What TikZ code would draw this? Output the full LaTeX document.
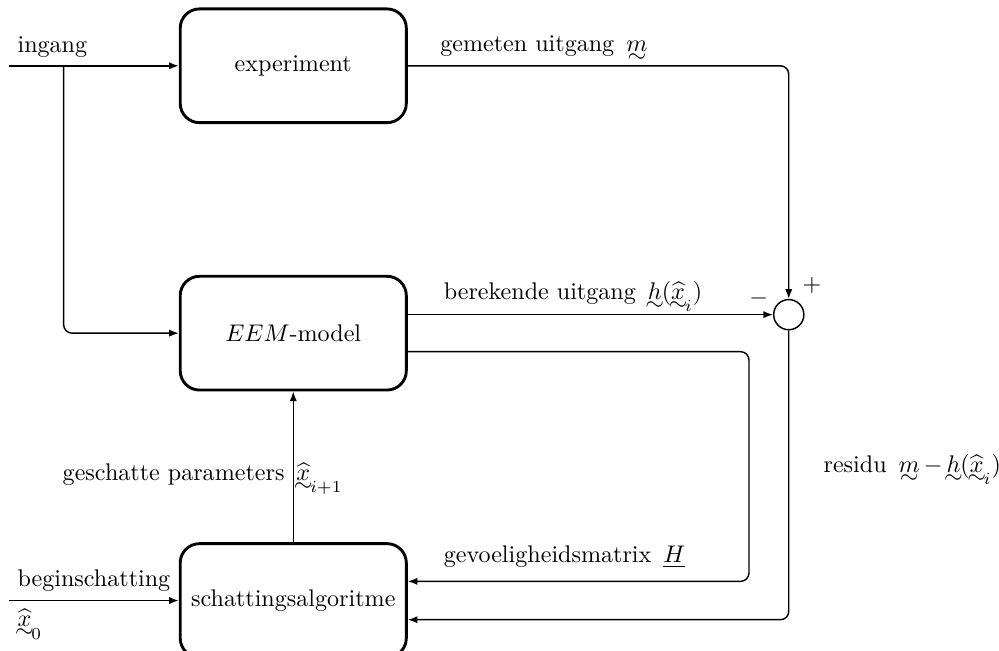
\documentclass[tikz,border=0pt]{standalone}
\usepackage{amsmath}
\usetikzlibrary{arrows.meta, positioning}

% vector with a tilde underneath, and the estimated parameter vector
\newcommand{\vt}[1]{\mathord{\vtop{\offinterlineskip\halign{\hfil$##$\hfil\cr#1\cr\noalign{\kern1pt}\hidewidth\sim\hidewidth\cr}}}}
\newcommand{\xh}{\vt{\widehat{x}}}

\begin{document}
\begin{tikzpicture}[node distance=2.2cm,
    box/.style={rectangle, draw, line width=1.2pt, rounded corners=8pt, minimum width=3.3cm, minimum height=1.66cm},
    sum/.style={circle, draw, line width=0.6pt, minimum size=0.44cm, inner sep=0pt},
    line/.style={line width=0.6pt, -{Latex[length=4pt,width=3pt]}, rounded corners=3.5pt}]
    \useasboundingbox (0,0) rectangle (14.58,-9.49);
    \node[box] at (4.28,-0.96) (exp) {experiment};
    \node[box, below=of exp] (eem) {$EEM$-model};
    \node[box, below=of eem] (schat) {schattingsalgoritme};
    \node[sum, right=5.33cm of eem.east, yshift=0.27cm] (sum) {};
    \node at ([shift={(-0.44,0.23)}]sum) (minus) {$-$};
    \node at ([shift={(0.34,0.42)}]sum) (plus) {$+$};
    \coordinate (ingang) at ([xshift=-2.48cm]exp.west);
    \coordinate (tak) at ([xshift=-1.68cm]exp.west);
    \coordinate (begin) at ([xshift=-2.48cm]schat.west);
    % inputs
    \draw[line] (ingang) node[above right] {ingang} -- (exp.west);
    \draw[line] (tak) |- (eem.west);
    \draw[line] (begin) node[above right] {beginschatting} node[below right] {$\xh_0$} -- (schat.west);
    % outputs to the summing point
    \draw[line] (exp.east) -- ++(0.43,0) node[above right, inner sep=1pt] {gemeten uitgang\enspace$\vt{m}$} -| (sum.north);
    \draw[line] ([yshift=0.27cm]eem.east) -- ++(0.48,0) node[above right, inner sep=1pt] {berekende uitgang\enspace$\vt{h}(\xh_i)$} -- (sum.west);
    % feedback to the estimator
    \draw[line] ([yshift=-0.27cm]eem.east) -- ++(4.98,0) |- node[pos=0.96, above right, yshift=2pt] {gevoeligheidsmatrix\enspace$\underline{H}$} ([yshift=0.28cm]schat.east);
    \draw[line] (sum.south) |- node[pos=0.24, right=0.38cm] {residu\enspace$\vt{m}\,{-}\,\vt{h}(\xh_i)$} ([yshift=-0.28cm]schat.east);
    \draw[line] (schat) -- node[pos=0.45, left] {geschatte parameters} node[pos=0.42, right, inner sep=1pt] {$\xh_{i+1}$} (eem);
\end{tikzpicture}
\end{document}
